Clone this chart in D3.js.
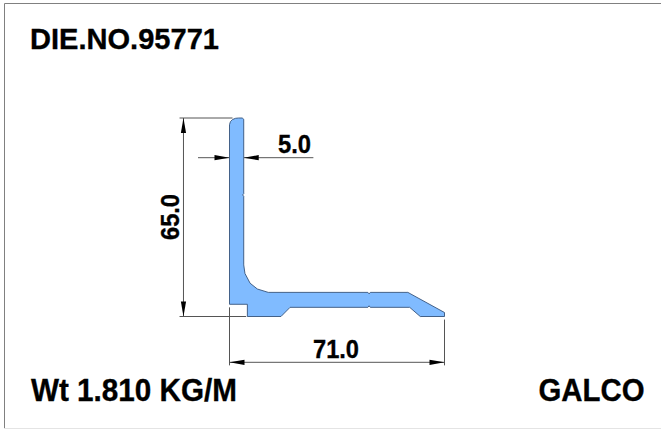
<!DOCTYPE html>
<html>
<head>
<meta charset="utf-8">
<title>DIE.NO.95771</title>
<script src="https://cdn.jsdelivr.net/npm/d3@7"></script>
<style>
html, body { margin: 0; padding: 0; background: #fff; }
svg { display: block; }
text { font-family: "Liberation Sans", Arial, sans-serif; font-weight: bold; fill: #000; stroke: #000; stroke-width: 0.35; }
</style>
</head>
<body>
<div id="chart"></div>
<script>
const width = 661;
const height = 430;

// Section outline in mm (0,0 = bottom left of the section)
const outlineX = [0, 5.9, 5.9, 17, 20, 45.7, 46.1, 46.5, 59.5, 63, 71, 71, 58.9, 46.5, 46.1, 45.7, 12.8, 9.2, 6.8, 5.1, 4.7, 4.7, 4.3, 4.7, 4.7, 4.2, 3, 2, 1, 0.3, 0];
const outlineY = [4, 4, 0, 0, 3, 3, 3.5, 3, 3, 0, 0, 1.3, 7.9, 7.9, 7.4, 7.9, 7.9, 9, 10.9, 14.1, 16.9, 39.4, 39.8, 40.2, 64.6, 65, 65, 64.9, 64.5, 63.8, 62.8];

// Dimension values
const thickness = 5.0;
const sectionHeight = 65.0;
const sectionWidth = 71.0;

const title = "DIE.NO.95771";
const weight = "Wt 1.810 KG/M";
const brand = "GALCO";

const x = d3.scaleLinear().domain([0, 71]).range([229.5, 444.5]);
const y = d3.scaleLinear().domain([0, 65]).range([316.5, 118]);

const svg = d3.select("#chart")
	.append("svg")
	.attr("width", width)
	.attr("height", height);

// Frame
svg.append("path")
	.attr("d", `M4.5,${height - 2}V3.5H${width}`)
	.attr("fill", "none")
	.attr("stroke", "#808080")
	.attr("stroke-width", 1);
svg.append("line")
	.attr("x1", 4).attr("x2", width)
	.attr("y1", height - 1.5).attr("y2", height - 1.5)
	.attr("stroke", "#e4e4e4");

// Thin dimension lines, all in mm
const dimLines = [
	[-15.2, 0, -15.2, 65],   // height dimension
	[-16.5, 65, 1, 65],
	[-16.5, 0, 5.5, 0],
	[0, 3, 0, -16],          // width extension left
	[71, -1, 71, -16],       // width extension right
	[0, -15, 71, -15],       // width dimension
	[-10.4, 52, 0, 52],      // thickness, left side
	[4.7, 52, 27.7, 52]      // thickness, right side
];

svg.append("g")
	.attr("stroke", "#555")
	.attr("stroke-width", 1)
	.selectAll("line")
	.data(dimLines)
	.enter().append("line")
	.attr("x1", d => x(d[0]))
	.attr("y1", d => y(d[1]))
	.attr("x2", d => x(d[2]))
	.attr("y2", d => y(d[3]));

// Arrowheads: tip position in mm, then the screen direction of the tail
const arrows = [
	[-15.2, 65, 0, 1],
	[-15.2, 0, 0, -1],
	[0, -15, 1, 0],
	[71, -15, -1, 0],
	[0, 52, -1, 0],
	[4.7, 52, 1, 0]
];

svg.append("g")
	.selectAll("path")
	.data(arrows)
	.enter().append("path")
	.attr("fill", "#000")
	.attr("d", d => {
		const px = x(d[0]), py = y(d[1]);
		const len = 15, half = 2.6;
		const tx = px + d[2] * len, ty = py + d[3] * len;
		return d3.line()([
			[px, py],
			[tx + d[3] * half, ty + d[2] * half],
			[tx - d[3] * half, ty - d[2] * half]
		]) + "Z";
	});

// Section
const outline = outlineX.map((v, i) => [v, outlineY[i]]);
const sectionLine = d3.line()
	.x(d => x(d[0]))
	.y(d => y(d[1]))
	.curve(d3.curveLinearClosed);

svg.append("path")
	.attr("d", sectionLine(outline))
	.attr("fill", "#80bbff")
	.attr("stroke", "#34527a")
	.attr("stroke-width", 0.9)
	.attr("stroke-linejoin", "round");

// Labels
function label(txt, px, py, size, len) {
	return svg.append("text")
		.attr("x", px)
		.attr("y", py)
		.attr("font-size", size)
		.attr("textLength", len)
		.attr("lengthAdjust", "spacingAndGlyphs")
		.text(txt);
}

label(title, 30, 48.5, 30, 189);
label(weight, 31, 400.5, 32, 206);
label(brand, 538.5, 400.5, 32, 106);
label(thickness.toFixed(1), 278, 153, 25, 33);
label(sectionWidth.toFixed(1), 313, 358, 25, 46);
label(sectionHeight.toFixed(1), 0, 0, 25, 46)
	.attr("transform", "translate(179,240) rotate(-90)");
</script>
</body>
</html>
